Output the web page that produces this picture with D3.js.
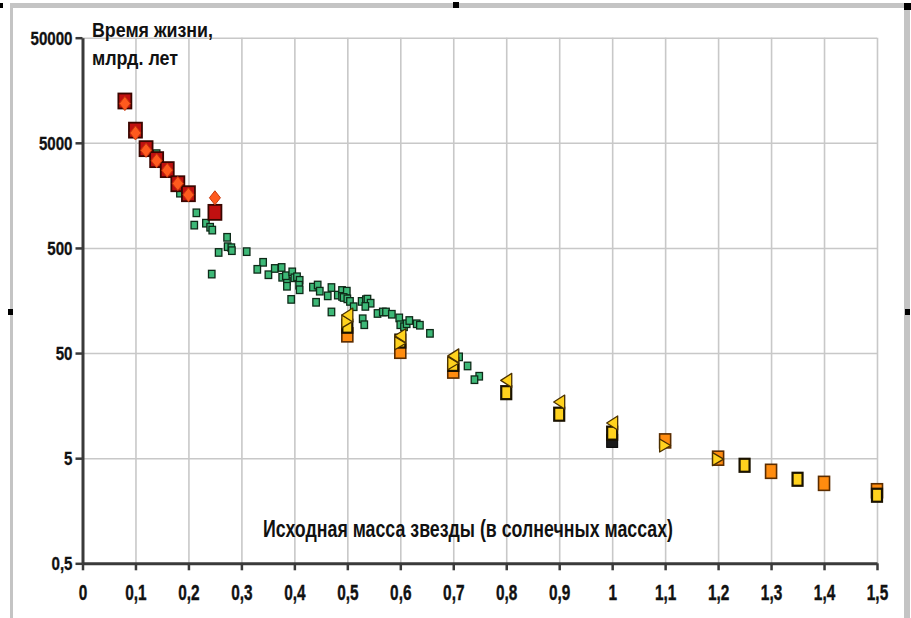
<!DOCTYPE html>
<html><head><meta charset="utf-8">
<script src="https://cdn.jsdelivr.net/npm/d3@7/dist/d3.min.js"></script>
<style>
html,body{margin:0;padding:0;background:#fff;}
svg{display:block;font-family:"Liberation Sans",Arial,sans-serif;}
</style></head><body>
<svg id="c" width="911" height="618"></svg>
<script>
// ---- data ----
const xTicks = [0,0.1,0.2,0.3,0.4,0.5,0.6,0.7,0.8,0.9,1,1.1,1.2,1.3,1.4,1.5];
const yTicks = [0.5,5,50,500,5000,50000];
const yTitle = ["Время жизни,", "млрд. лет"];
const xTitle = "Исходная масса звезды (в солнечных массах)";

const massRed = [0.08,0.1,0.12,0.14,0.16,0.18,0.2,0.25];
const lifeRedSquare = [12500,6600,4400,3460,2780,2040,1640,1090];
const lifeRedDiamond = [11800,6200,4240,3380,2740,2050,1600,1500];

const massGreen = [0.14,0.184,0.215,0.211,0.233,0.241,0.245,0.273,0.274,0.281,0.257,0.31,0.244,0.341,0.33,0.351,0.363,0.376,0.377,0.386,0.384,0.386,0.394,0.396,0.4,0.405,0.41,0.409,0.41,0.435,0.444,0.448,0.441,0.463,0.47,0.47,0.482,0.49,0.49,0.499,0.493,0.5,0.505,0.512,0.527,0.535,0.538,0.544,0.534,0.529,0.532,0.557,0.567,0.573,0.584,0.598,0.6,0.607,0.612,0.617,0.631,0.637,0.656,0.711,0.727,0.749,0.74,0.282];
const lifeGreen = [3945,1660,1079,824,860,787,739,631,514,503,453,461,282,365,313,278,319,326,263,241,272,216,162,296,260,266,246,221,200,212,222,194,152,175,210,123,178,197,173,194,169,164,155,138,155,161,163,149,139,106,93,119,123,123,117,108,93,89,95,102,95,92,77,46,37.7,30.1,27.9,471];

const massDark = [1.0];
const lifeDark = [7.3];
const massOrange = [0.5,0.6,0.7,1.1,1.2,1.3,1.4,1.5];
const lifeOrange = [74.5,52,33.7,7.3,5.0,3.75,2.88,2.45];
const massYellow = [0.5,0.6,0.7,0.8,0.9,1.0,1.25,1.35,1.5];
const lifeYellow = [90,65,39,21,13.1,8.65,4.28,3.15,2.22];
const massTriR = [0.5,0.6,0.7,1.1,1.2];
const lifeTriR = [100,62,40,6.6,4.9];
const massTriL = [0.5,0.6,0.7,0.8,0.9,1.0];
const lifeTriL = [115,73,47,27.5,17.1,10.8];

// ---- chart ----
const svg = d3.select("#c");
const x = d3.scaleLinear().domain([0,1.5]).range([82.5,877]);
const y = d3.scaleLog().domain([0.5,50000]).range([563.3,37.7]);
const fmt = d => String(d).replace(".", ",");

// window frame
svg.append("rect").attr("x",10).attr("y",3).attr("width",897).attr("height",5).attr("fill","#c4c4c4");
svg.append("rect").attr("x",10).attr("y",3).attr("width",3).attr("height",615).attr("fill","#c4c4c4");
svg.append("rect").attr("x",904).attr("y",3).attr("width",6).attr("height",615).attr("fill","#c4c4c4");
[[0,3,3,5],[453,2,6,6],[904,3,7,7],[8,309,5,6],[905,309,5,6]].forEach(h=>{
  svg.append("rect").attr("x",h[0]).attr("y",h[1]).attr("width",h[2]).attr("height",h[3]).attr("fill","#000");
});

// grid
svg.append("g").attr("transform",`translate(0,${y(0.5)})`)
  .call(d3.axisBottom(x).tickValues(xTicks).tickSize(-(y(0.5)-y(50000))).tickFormat(""))
  .call(g=>{g.select(".domain").remove(); g.selectAll("line").attr("stroke","#c8c8c8").attr("stroke-width",1.6);});
svg.append("g").attr("transform",`translate(${x(0)},0)`)
  .call(d3.axisLeft(y).tickValues(yTicks).tickSize(-(x(1.5)-x(0))).tickFormat(""))
  .call(g=>{g.select(".domain").remove(); g.selectAll("line").attr("stroke","#c8c8c8").attr("stroke-width",1.6);});

// axes
const gx = svg.append("g").attr("transform",`translate(0,${y(0.5)})`)
  .call(d3.axisBottom(x).tickValues(xTicks).tickSize(7).tickSizeOuter(0).tickFormat(fmt));
gx.select(".domain").attr("stroke","#3a3a3a").attr("stroke-width",3);
gx.selectAll("line").attr("stroke","#3a3a3a").attr("stroke-width",2.5);
gx.selectAll("text").attr("y",0).attr("dy",null).attr("transform","translate(0,37) scale(0.7,1)")
  .attr("font-size",22).attr("font-weight","bold").attr("fill","#111").attr("stroke","#111").attr("stroke-width",0.4)
  .attr("font-family","Liberation Sans, Arial, sans-serif");

const gy = svg.append("g").attr("transform",`translate(${x(0)},0)`)
  .call(d3.axisLeft(y).tickValues(yTicks).tickSize(7).tickSizeOuter(0).tickFormat(fmt));
gy.select(".domain").attr("stroke","#3a3a3a").attr("stroke-width",3);
gy.selectAll("line").attr("stroke","#3a3a3a").attr("stroke-width",2.5);
gy.selectAll("text").attr("x",0).attr("dy","0.36em").attr("transform","translate(-10,0) scale(0.84,1)")
  .attr("font-size",18).attr("font-weight","bold").attr("fill","#111").attr("stroke","#111").attr("stroke-width",0.3)
  .attr("font-family","Liberation Sans, Arial, sans-serif");

// titles
svg.append("text").attr("x",92).attr("y",37).attr("font-size",20).attr("font-weight","bold").attr("fill","#111")
  .attr("textLength",121).attr("lengthAdjust","spacingAndGlyphs").text(yTitle[0]);
svg.append("text").attr("x",92).attr("y",65).attr("font-size",20).attr("font-weight","bold").attr("fill","#111")
  .attr("textLength",86).attr("lengthAdjust","spacingAndGlyphs").text(yTitle[1]);
svg.append("text").attr("x",263).attr("y",537).attr("font-size",23).attr("font-weight","bold").attr("fill","#111")
  .attr("textLength",410).attr("lengthAdjust","spacingAndGlyphs").text(xTitle);

// markers
const zip = (a,b) => a.map((m,i)=>({m, v:b[i]}));
function rects(data, w, h, fill, stroke, sw){
  svg.append("g").selectAll("rect").data(data).join("rect")
    .attr("x",d=>x(d.m)-w/2).attr("y",d=>y(d.v)-h/2).attr("width",w).attr("height",h)
    .attr("fill",fill).attr("stroke",stroke).attr("stroke-width",sw);
}
function paths(data, shape, fill, stroke, sw){
  svg.append("g").selectAll("path").data(data).join("path")
    .attr("transform",d=>`translate(${x(d.m)},${y(d.v)})`).attr("d",shape)
    .attr("fill",fill).attr("stroke",stroke).attr("stroke-width",sw).attr("stroke-linejoin","round");
}

rects(zip(massGreen,lifeGreen), 6.5, 7.5, "#3db877", "#0e2a18", 1.3);
rects(zip(massDark,lifeDark), 11, 13, "#1a1a1a", "#000", 1);
rects(zip(massOrange,lifeOrange), 11, 14, "#ff8c0f", "#5a2c00", 1.6);
rects(zip(massYellow,lifeYellow), 10, 13, "#ffd21e", "#1a1200", 2.2);
paths(zip(massTriR,lifeTriR), "M-5.5,-6.5L5.5,0L-5.5,6.5Z", "#ffd21e", "#4a3000", 1.3);
paths(zip(massTriL,lifeTriL), "M5.5,-7L-5.5,0L5.5,7Z", "#ffd21e", "#4a3000", 1.3);
rects(zip(massRed,lifeRedSquare), 13, 15, "#c01010", "#3a0600", 1.8);
paths(zip(massRed,lifeRedDiamond), "M0,-7L5.5,0L0,7L-5.5,0Z", "#ff5a1e", "#c8380c", 1);
</script></body></html>
